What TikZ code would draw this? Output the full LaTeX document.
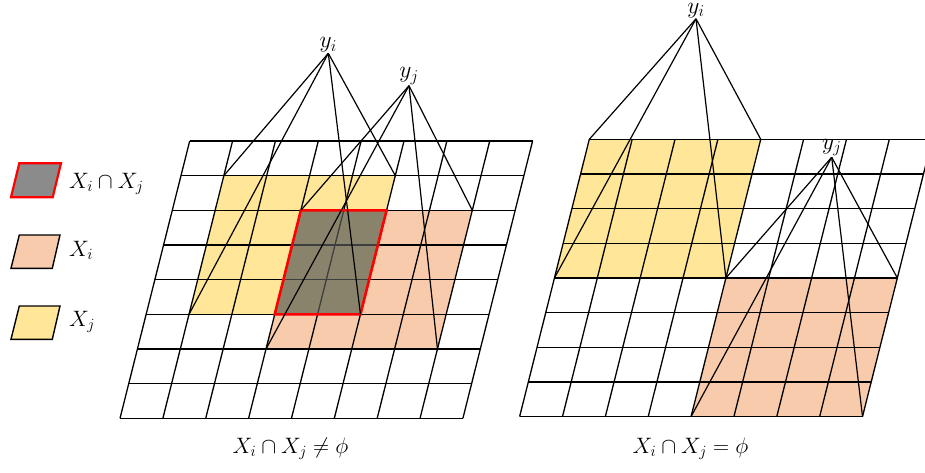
\RequirePackage{fix-cm}
\documentclass[tikz,border=0pt]{standalone}
\begin{document}
\begin{tikzpicture}[x=1pt,y=-1pt,
  gl/.style={line width=1.3pt},
  cn/.style={line width=1.2pt},
  lab/.style={font=\fontsize{22.3}{26}\selectfont, inner sep=0pt},
  ylab/.style={font=\fontsize{23.5}{27}\selectfont, anchor=south, inner sep=1pt},
  skew/.style={x={(42.86pt,0pt)}, y={(-8.71pt,-34.66pt)}}]
\definecolor{cyel}{HTML}{FFE699}
\definecolor{corg}{HTML}{F8CBAD}
\definecolor{cgry}{RGB}{89,89,89}
\definecolor{clgry}{RGB}{139,139,139}
\useasboundingbox (0,0) rectangle (925,472);
\clip (0,0) rectangle (925,472);

% ---------- left grid ----------
\begin{scope}[shift={(189.7pt,-141pt)}, skew]
  \coordinate (LjA) at (1,1); \coordinate (LjB) at (5,1);
  \coordinate (LjC) at (5,5); \coordinate (LjD) at (1,5);
  \coordinate (LiA) at (3,2); \coordinate (LiB) at (7,2);
  \coordinate (LiC) at (7,6); \coordinate (LiD) at (3,6);
  \coordinate (LxA) at (3,2); \coordinate (LxB) at (5,2);
  \coordinate (LxC) at (5,5); \coordinate (LxD) at (3,5);
  \fill[corg] (LiA) -- (LiB) -- (LiC) -- (LiD) -- cycle;
  \fill[cyel] (LjA) -- (LjB) -- (LjC) -- (LjD) -- cycle;
  \foreach \k in {0,...,8} {
    \draw[gl] (\k,0) -- (\k,8);
    \draw[gl] (0,\k) -- (8,\k);
  }
  \fill[cgry, fill opacity=0.7] (LxA) -- (LxB) -- (LxC) -- (LxD) -- cycle;
  \draw[red, line width=2.6pt, line join=miter] (LxA) -- (LxB) -- (LxC) -- (LxD) -- cycle;
\end{scope}

% ---------- right grid ----------
\begin{scope}[shift={(589.3pt,-139.3pt)}, skew]
  \coordinate (RjA) at (0,0); \coordinate (RjB) at (4,0);
  \coordinate (RjC) at (4,4); \coordinate (RjD) at (0,4);
  \coordinate (RiA) at (4,4); \coordinate (RiB) at (8,4);
  \coordinate (RiC) at (8,8); \coordinate (RiD) at (4,8);
  \fill[cyel] (RjA) -- (RjB) -- (RjC) -- (RjD) -- cycle;
  \fill[corg] (RiA) -- (RiB) -- (RiC) -- (RiD) -- cycle;
  \foreach \k in {0,...,8} {
    \draw[gl] (\k,0) -- (\k,8);
    \draw[gl] (0,\k) -- (8,\k);
  }
\end{scope}

% ---------- output nodes ----------
\node[ylab] (Lyi) at (328.3,53.3) {$y_i$};
\node[ylab] (Lyj) at (409,85.7) {$y_j$};
\node[ylab] (Ryi) at (696,18.8) {$y_i$};
\node[ylab] (Ryj) at (831.7,157.3) {$y_j$};

\foreach \c in {LjA,LjB,LjC,LjD} \draw[cn] (Lyi.south) -- (\c);
\foreach \c in {LiA,LiB,LiC,LiD} \draw[cn] (Lyj.south) -- (\c);
\foreach \c in {RjA,RjB,RjC,RjD} \draw[cn] (Ryi.south) -- (\c);
\foreach \c in {RiA,RiB,RiC,RiD} \draw[cn] (Ryj.south) -- (\c);

% ---------- captions ----------
\node[lab] (capL) at (290.5,449) {$X_i\cap X_j\neq\phi$};
\node[lab] (capR) at (690.5,449) {$X_i\cap X_j=\phi$};

% ---------- legend ----------
\fill[clgry] (19.3,163.3) -- (61,163.3) -- (52.7,197.3) -- (11,197.3) -- cycle;
\draw[red, line width=2.2pt, line join=miter] (19.3,163.3) -- (61,163.3) -- (52.7,197.3) -- (11,197.3) -- cycle;
\draw[line width=1.4pt, fill=corg] (19.3,235) -- (60,235) -- (52.3,268.3) -- (11,268.3) -- cycle;
\draw[line width=1.4pt, fill=cyel] (19.3,306) -- (60,306) -- (52.3,339.3) -- (11,339.3) -- cycle;
\node[lab, anchor=base west] (legX) at (69,188) {$X_i\cap X_j$};
\node[lab, anchor=base west] (legI) at (69,256.5) {$X_i$};
\node[lab, anchor=base west] (legJ) at (69,326.5) {$X_j$};
\end{tikzpicture}
\end{document}
